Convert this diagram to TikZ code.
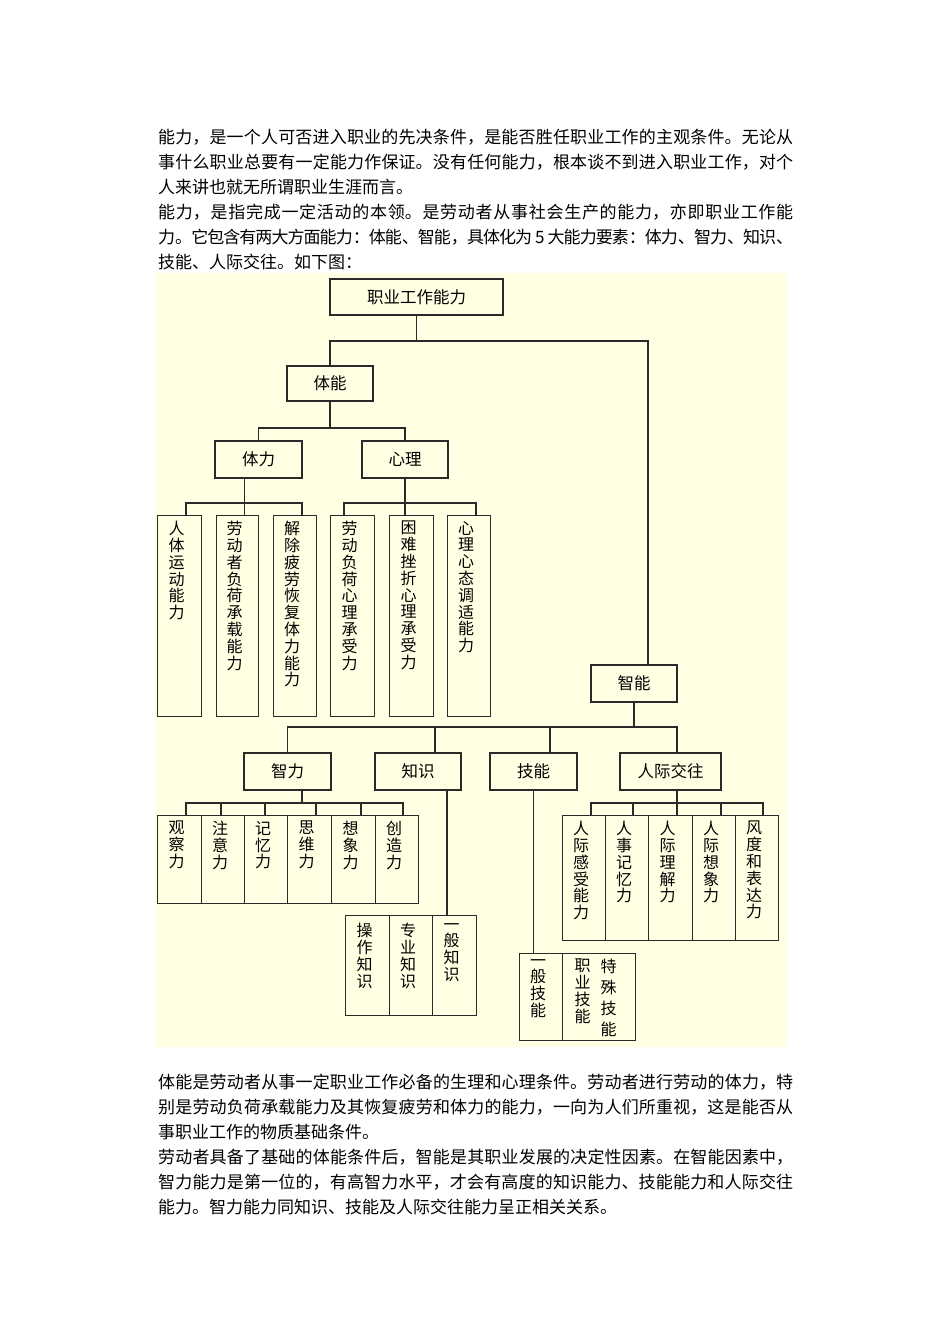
\documentclass[tikz,border=0pt]{standalone}
\usepackage{fontspec}
\setmainfont{Noto Sans CJK SC}
\XeTeXlinebreaklocale "zh"
\XeTeXlinebreakskip=0pt plus 3pt minus 1.5pt

\definecolor{paper}{HTML}{FFFFE3}
\definecolor{ink}{HTML}{2A2A2A}
\newcommand{\bodyfont}{\fontsize{17}{25}\selectfont}
\newcommand{\headfont}{\fontsize{16.5}{18}\selectfont}
\newcommand{\boxfont}{\fontsize{16}{16.8}\selectfont}
\newcommand{\fullline}[1]{\parbox[b]{635pt}{\parfillskip=0pt #1}}

\tikzset{
  headbox/.style={draw=ink, line width=1.3pt, fill=paper, inner sep=0pt, font=\headfont},
  colbox/.style n args={2}{draw=ink, line width=1.3pt, anchor=north west, inner sep=0pt,
    minimum width=#1pt, minimum height=#2pt},
  coltext/.style={anchor=north, align=center, inner sep=0pt, yshift=-6pt, xshift=-3pt, font=\boxfont},
  textline/.style={anchor=base west, inner sep=0pt, font=\bodyfont},
  conn/.style={draw=ink, line width=1.3pt},
}

\begin{document}
\begin{tikzpicture}[x=1pt,y=-1pt]
  \useasboundingbox[fill=white] (0,0) rectangle (950,1344);

  % text above the chart
  \node[textline] (p1) at (158,143.5) {\fullline{能力，是一个人可否进入职业的先决条件，是能否胜任职业工作的主观条件。无论从}};
  \node[textline] (p2) at (158,168.5) {\fullline{事什么职业总要有一定能力作保证。没有任何能力，根本谈不到进入职业工作，对个}};
  \node[textline] (p3) at (158,193.5) {人来讲也就无所谓职业生涯而言。};
  \node[textline] (p4) at (158,218.5) {\fullline{能力，是指完成一定活动的本领。是劳动者从事社会生产的能力，亦即职业工作能}};
  \node[textline] (p5) at (158,243.5) {\fullline{力。它包含有两大方面能力：体能、智能，具体化为 5 大能力要素：体力、智力、知识、}};
  \node[textline] (p6) at (158,268.5) {技能、人际交往。如下图：};

  % chart ground
  \fill[paper] (155,273) rectangle (787,1047);

  % upper boxes
  \node[headbox, minimum width=173pt, minimum height=36pt] (root) at (416.5,297) {职业工作能力};
  \node[headbox, minimum width=86pt, minimum height=35pt] (tineng) at (330,383.5) {体能};
  \node[headbox, minimum width=87pt, minimum height=37pt] (tili) at (258.5,459.5) {体力};
  \node[headbox, minimum width=86pt, minimum height=37pt] (xinli) at (405,459.5) {心理};
  \node[headbox, minimum width=86pt, minimum height=37pt] (zhineng) at (634,683.5) {智能};
  \node[headbox, minimum width=87pt, minimum height=37pt] (zhili) at (287.5,771.5) {智力};
  \node[headbox, minimum width=86pt, minimum height=37pt] (zhishi) at (418,771.5) {知识};
  \node[headbox, minimum width=87pt, minimum height=37pt] (jineng) at (533.5,771.5) {技能};
  \node[headbox, minimum width=101pt, minimum height=37pt] (renji) at (670.5,771.5) {人际交往};

  % tili / xinli columns
  \node[colbox={44}{201}, label={[coltext]north:{人\\体\\运\\动\\能\\力}}] (tl1) at (157,515) {};
  \node[colbox={42}{201}, label={[coltext]north:{劳\\动\\者\\负\\荷\\承\\载\\能\\力}}] (tl2) at (216,515) {};
  \node[colbox={43}{201}, label={[coltext]north:{解\\除\\疲\\劳\\恢\\复\\体\\力\\能\\力}}] (tl3) at (273,515) {};
  \node[colbox={44}{201}, label={[coltext]north:{劳\\动\\负\\荷\\心\\理\\承\\受\\力}}] (xl1) at (330,515) {};
  \node[colbox={44}{201}, label={[coltext]north:{困\\难\\挫\\折\\心\\理\\承\\受\\力}}] (xl2) at (389,515) {};
  \node[colbox={43}{201}, label={[coltext]north:{心\\理\\心\\态\\调\\适\\能\\力}}] (xl3) at (447,515) {};

  % zhili columns
  \node[colbox={44}{88}, label={[coltext]north:{观\\察\\力}}] (zl1) at (157,815) {};
  \node[colbox={43}{88}, label={[coltext]north:{注\\意\\力}}] (zl2) at (201,815) {};
  \node[colbox={43}{88}, label={[coltext]north:{记\\忆\\力}}] (zl3) at (244,815) {};
  \node[colbox={44}{88}, label={[coltext]north:{思\\维\\力}}] (zl4) at (287,815) {};
  \node[colbox={44}{88}, label={[coltext]north:{想\\象\\力}}] (zl5) at (331,815) {};
  \node[colbox={43}{88}, label={[coltext]north:{创\\造\\力}}] (zl6) at (375,815) {};

  % renji columns
  \node[colbox={43}{125}, label={[coltext]north:{人\\际\\感\\受\\能\\力}}] (rl1) at (562,815) {};
  \node[colbox={43}{125}, label={[coltext]north:{人\\事\\记\\忆\\力}}] (rl2) at (605,815) {};
  \node[colbox={44}{125}, label={[coltext]north:{人\\际\\理\\解\\力}}] (rl3) at (648,815) {};
  \node[colbox={43}{125}, label={[coltext]north:{人\\际\\想\\象\\力}}] (rl4) at (692,815) {};
  \node[colbox={43}{125}, label={[coltext]north:{风\\度\\和\\表\\达\\力}}] (rl5) at (735,815) {};

  % zhishi columns
  \node[colbox={44}{100}, label={[coltext, yshift=-2pt]north:{操\\作\\知\\识}}] (zs1) at (345,915) {};
  \node[colbox={43}{100}, label={[coltext, yshift=-2pt]north:{专\\业\\知\\识}}] (zs2) at (389,915) {};
  \node[colbox={44}{100}, label={[coltext, yshift=-2pt]north:{一\\般\\知\\识}}] (zs3) at (432,915) {};

  % jineng columns
  \node[colbox={43}{87}, label={[coltext]north:{一\\般\\技\\能}}] (js1) at (519,953) {};
  \node[colbox={73}{87}, label={[coltext, xshift=-13.5pt]north:{职\\业\\技\\能}},
    label={[coltext, xshift=12.5pt, font=\fontsize{16}{21}\selectfont]north:{特\\殊\\技\\能}}] (js2) at (562,953) {};

  % connectors
  \coordinate (zn-in) at ([xshift=14pt]zhineng.north);
  \draw[conn] (root.south) -- (root.south |- 0,341);
  \draw[conn] (tineng.north) |- (zn-in |- 0,341) -- (zn-in);

  \draw[conn] (tineng.south) -- (tineng.south |- 0,428);
  \draw[conn] (tili.north) |- (xinli.north |- 0,428) -- (xinli.north);

  \coordinate (tl-out) at ([xshift=-14pt]tili.south);
  \draw[conn] (tl-out) -- (tl-out |- tl2.north);
  \draw[conn] (tl1.north -| 186,0) |- (244,503) -| (tl3.north -| 302,0);
  \draw[conn] (xinli.south) -- (xinli.south |- xl2.north);
  \draw[conn] (xl1.north -| 344,0) |- (405,503) -| (xl3.north -| 476,0);

  \coordinate (zs-in) at ([xshift=17pt]zhishi.north);
  \coordinate (jn-in) at ([xshift=16.5pt]jineng.north);
  \coordinate (rj-in) at ([xshift=6.5pt]renji.north);
  \draw[conn] (zhineng.south) -- (zhineng.south |- 0,727);
  \draw[conn] (zhili.north) |- (rj-in |- 0,727) -- (rj-in);
  \draw[conn] (zs-in) -- (zs-in |- 0,727);
  \draw[conn] (jn-in) -- (jn-in |- 0,727);

  \coordinate (zl-out) at ([xshift=14.5pt]zhili.south);
  \draw[conn] (zl-out) -- (zl-out |- 0,803);
  \draw[conn] (zl1.north -| 186,0) |- (403,803) -- (zl6.north -| 403,0);
  \foreach \x in {221,265,316,361}
    \draw[conn] (\x,803) -- (zl1.north -| \x,0);

  \coordinate (rj-out) at ([xshift=6.5pt]renji.south);
  \draw[conn] (rj-out) -- (rj-out |- rl3.north);
  \draw[conn] (rl1.north -| 591,0) |- (763,803) -- (rl5.north -| 763,0);
  \foreach \x in {633,721}
    \draw[conn] (\x,803) -- (rl1.north -| \x,0);

  \coordinate (zs-out) at ([xshift=29pt]zhishi.south);
  \draw[conn] (zs-out) -- (zs-out |- zs3.north);
  \draw[conn] (jineng.south) -- (jineng.south |- js1.north);

  % text below the chart
  \node[textline] (q1) at (158,1088.5) {\fullline{体能是劳动者从事一定职业工作必备的生理和心理条件。劳动者进行劳动的体力，特}};
  \node[textline] (q2) at (158,1113.5) {\fullline{别是劳动负荷承载能力及其恢复疲劳和体力的能力，一向为人们所重视，这是能否从}};
  \node[textline] (q3) at (158,1138.5) {事职业工作的物质基础条件。};
  \node[textline] (q4) at (158,1163.5) {\fullline{劳动者具备了基础的体能条件后，智能是其职业发展的决定性因素。在智能因素中，}};
  \node[textline] (q5) at (158,1188.5) {\fullline{智力能力是第一位的，有高智力水平，才会有高度的知识能力、技能能力和人际交往}};
  \node[textline] (q6) at (158,1213.5) {能力。智力能力同知识、技能及人际交往能力呈正相关关系。};
\end{tikzpicture}
\end{document}
